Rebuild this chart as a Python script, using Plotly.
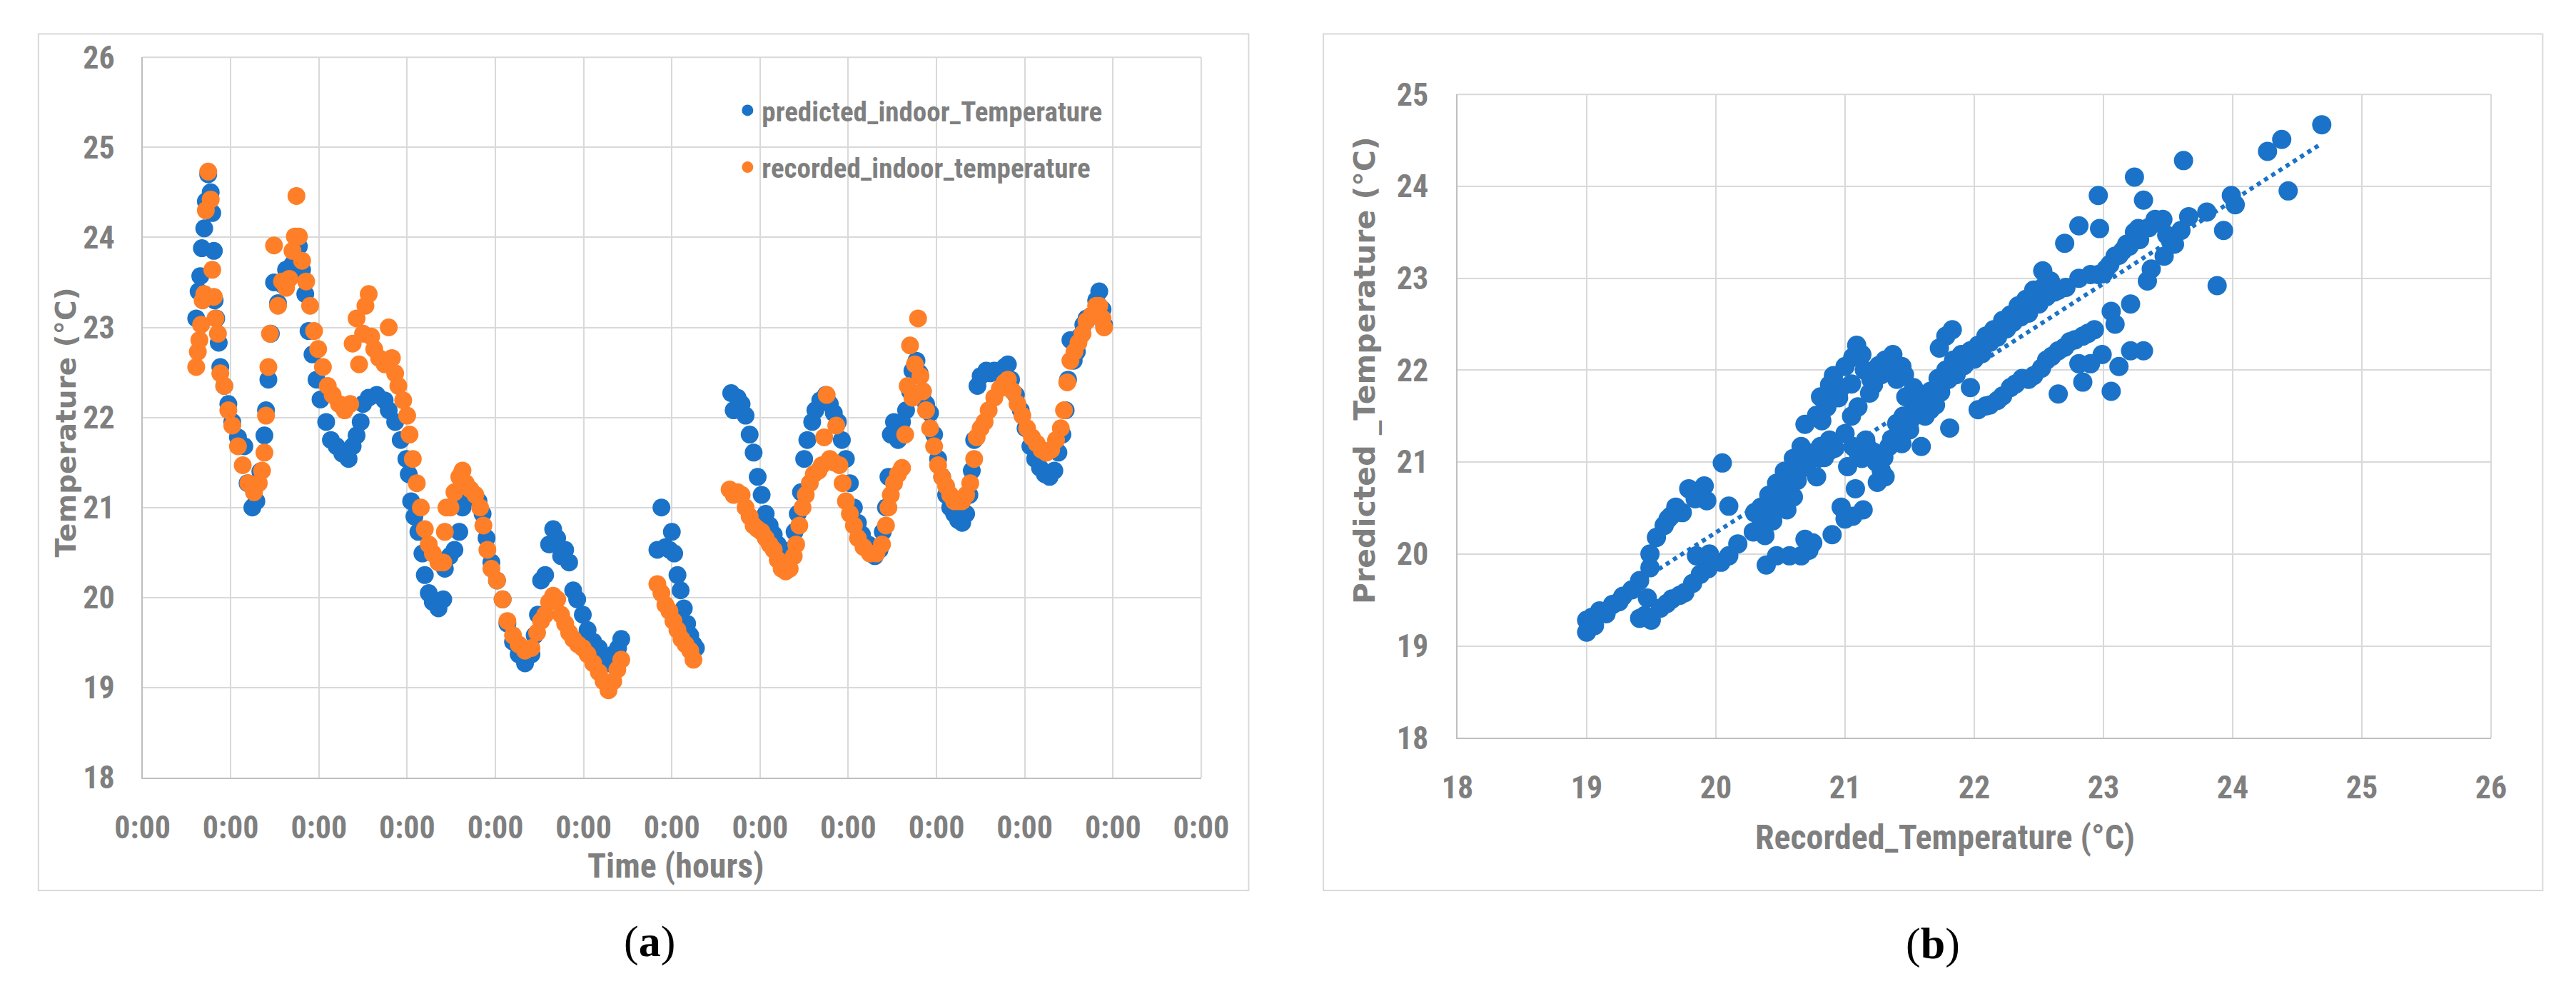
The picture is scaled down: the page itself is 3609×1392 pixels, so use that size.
import plotly.graph_objects as go
import numpy as np

W, H = 3609, 1392

# ---------------- Panel (a): time series (time in days, labels 0:00) ----------------
x_ticks = list(range(0, 13))
x_tick_labels = ["0:00"] * 13
y_ticks_a = list(range(18, 27))

pred_time = [
    0.609, 0.636, 0.655, 0.673, 0.700, 0.718, 0.745, 0.773, 0.791, 0.809, 0.818, 0.836, 0.864, 0.882, 0.927,
    0.973, 1.018, 1.082, 1.155, 1.191, 1.245, 1.291, 1.336, 1.382, 1.400, 1.427, 1.455, 1.491, 1.536, 1.591,
    1.627, 1.700, 1.773, 1.809, 1.845, 1.882, 1.927, 1.973, 2.018, 2.082, 2.136, 2.200, 2.264, 2.336, 2.382,
    2.427, 2.473, 2.500, 2.564, 2.655, 2.745, 2.791, 2.864, 2.927, 2.991, 3.018, 3.045, 3.082, 3.127, 3.173,
    3.200, 3.245, 3.291, 3.355, 3.409, 3.427, 3.482, 3.536, 3.591, 3.627, 3.655, 3.682, 3.745, 3.809, 3.855,
    3.900, 3.955, 4.018, 4.082, 4.136, 4.200, 4.264, 4.336, 4.409, 4.445, 4.482, 4.518, 4.564, 4.609, 4.655,
    4.700, 4.745, 4.791, 4.836, 4.882, 4.927, 4.991, 5.045, 5.109, 5.173, 5.227, 5.282, 5.336, 5.391, 5.427,
    5.836, 5.882, 5.927, 5.973, 6.000, 6.027, 6.064, 6.100, 6.136, 6.173, 6.209, 6.245, 6.273,
    6.673, 6.700, 6.745, 6.791, 6.836, 6.882, 6.927, 6.973, 7.018, 7.064, 7.109, 7.155, 7.200, 7.245, 7.291,
    7.318, 7.355, 7.391, 7.427, 7.464, 7.500, 7.536, 7.591, 7.627, 7.682, 7.745, 7.791, 7.836, 7.882, 7.927,
    7.973, 8.018, 8.064, 8.109, 8.155, 8.227, 8.300, 8.355, 8.391, 8.427, 8.455, 8.482, 8.518, 8.564, 8.609,
    8.655, 8.700, 8.727, 8.773, 8.809, 8.845, 8.882, 8.927, 8.973, 9.018, 9.064, 9.109, 9.155, 9.200, 9.245,
    9.291, 9.336, 9.373, 9.400, 9.427, 9.464, 9.500, 9.564, 9.609, 9.655, 9.718, 9.773, 9.809, 9.845, 9.900,
    9.955, 10.009, 10.064, 10.118, 10.173, 10.227, 10.282, 10.336, 10.382, 10.427, 10.464, 10.491, 10.518,
    10.555, 10.591, 10.627, 10.664, 10.700, 10.755, 10.809, 10.845, 10.882, 10.900,
]
pred_temp = [
    23.10, 23.40, 23.57, 23.88, 24.10, 24.40, 24.70, 24.50, 24.27, 23.85, 23.30, 23.10, 22.83, 22.56, 22.35,
    22.15, 21.95, 21.78, 21.68, 21.27, 21.00, 21.07, 21.40, 21.80, 22.08, 22.42, 22.93, 23.50, 23.27, 23.47,
    23.64, 23.70, 23.90, 23.64, 23.37, 22.96, 22.70, 22.42, 22.20, 21.95, 21.75, 21.68, 21.60, 21.54, 21.68,
    21.80, 21.95, 22.15, 22.22, 22.25, 22.19, 22.08, 21.95, 21.75, 21.54, 21.37, 21.07, 20.90, 20.73, 20.49,
    20.25, 20.05, 19.95, 19.88, 19.98, 20.32, 20.46, 20.53, 20.73, 21.00, 21.14, 21.17, 21.14, 21.07, 20.93,
    20.66, 20.39, 20.19, 19.98, 19.71, 19.51, 19.37, 19.27, 19.37, 19.58, 19.81, 20.19, 20.25, 20.59, 20.76,
    20.66, 20.46, 20.53, 20.39, 20.08, 19.98, 19.81, 19.64, 19.51, 19.44, 19.30, 19.27, 19.37, 19.44, 19.54,
    20.53, 21.00, 20.56, 20.53, 20.73, 20.49, 20.25, 20.08, 19.88, 19.71, 19.58, 19.48, 19.44,
    22.27, 22.08, 22.22, 22.15, 22.02, 21.81, 21.61, 21.34, 21.14, 20.93, 20.80, 20.70, 20.59, 20.53, 20.42,
    20.32, 20.53, 20.73, 20.93, 21.17, 21.54, 21.75, 21.95, 22.08, 22.19, 22.25, 22.15, 22.05, 21.95, 21.75,
    21.54, 21.27, 21.00, 20.83, 20.70, 20.59, 20.46, 20.53, 20.73, 21.00, 21.34, 21.81, 21.95, 21.75, 21.95,
    22.08, 22.29, 22.52, 22.63, 22.49, 22.29, 22.15, 22.05, 21.81, 21.54, 21.34, 21.14, 21.00, 20.93, 20.86,
    20.83, 20.93, 21.14, 21.41, 21.75, 22.35, 22.46, 22.52, 22.49, 22.52, 22.49, 22.56, 22.59, 22.42, 22.25,
    22.08, 21.88, 21.68, 21.54, 21.44, 21.37, 21.34, 21.41, 21.61, 21.81, 22.08, 22.42, 22.86,
    22.63, 22.73, 22.90, 23.03, 23.10, 23.13, 23.30, 23.40, 23.20, 23.03,
]

rec_time = [
    0.609, 0.627, 0.645, 0.664, 0.682, 0.700, 0.718, 0.745, 0.773, 0.791, 0.809, 0.827, 0.855, 0.882, 0.927,
    0.973, 1.018, 1.082, 1.136, 1.200, 1.264, 1.318, 1.355, 1.382, 1.400, 1.427, 1.445, 1.491, 1.536, 1.582,
    1.627, 1.664, 1.700, 1.727, 1.745, 1.773, 1.809, 1.855, 1.900, 1.945, 1.991, 2.045, 2.100, 2.155, 2.227,
    2.291, 2.355, 2.382, 2.427, 2.455, 2.500, 2.527, 2.564, 2.591, 2.627, 2.682, 2.745, 2.791, 2.827, 2.864,
    2.900, 2.955, 3.000, 3.027, 3.064, 3.109, 3.155, 3.200, 3.245, 3.291, 3.355, 3.409, 3.427, 3.445, 3.491,
    3.536, 3.591, 3.627, 3.664, 3.718, 3.773, 3.827, 3.864, 3.909, 3.955, 4.018, 4.082, 4.136, 4.200, 4.264,
    4.336, 4.409, 4.473, 4.518, 4.564, 4.609, 4.655, 4.700, 4.745, 4.791, 4.836, 4.882, 4.936, 4.991, 5.045,
    5.109, 5.173, 5.227, 5.282, 5.336, 5.382, 5.427,
    5.836, 5.882, 5.927, 5.973, 6.018, 6.064, 6.109, 6.155, 6.209, 6.245,
    6.655, 6.700, 6.745, 6.791, 6.836, 6.882, 6.927, 6.973, 7.018, 7.064, 7.109, 7.155, 7.200, 7.245, 7.291,
    7.336, 7.382, 7.409, 7.445, 7.482, 7.518, 7.564, 7.609, 7.664, 7.700, 7.727, 7.755, 7.791, 7.836, 7.864,
    7.900, 7.936, 7.973, 8.018, 8.064, 8.109, 8.173, 8.245, 8.318, 8.382, 8.427, 8.455, 8.482, 8.518, 8.564,
    8.609, 8.645, 8.673, 8.700, 8.727, 8.755, 8.791, 8.818, 8.845, 8.882, 8.927, 8.973, 9.018, 9.064, 9.109,
    9.155, 9.200, 9.245, 9.291, 9.336, 9.382, 9.427, 9.455, 9.500, 9.545, 9.591, 9.655, 9.718, 9.773, 9.809,
    9.864, 9.918, 9.973, 10.027, 10.082, 10.136, 10.191, 10.245, 10.300, 10.355, 10.409, 10.445, 10.482,
    10.518, 10.564, 10.609, 10.655, 10.700, 10.755, 10.809, 10.845, 10.882, 10.900,
]
rec_temp = [
    22.56, 22.73, 22.86, 23.03, 23.30, 23.37, 24.30, 24.73, 24.42, 23.64, 23.34, 23.10, 22.93, 22.49, 22.35,
    22.08, 21.91, 21.68, 21.47, 21.27, 21.17, 21.27, 21.41, 21.61, 22.02, 22.56, 22.93, 23.91, 23.24, 23.51,
    23.44, 23.54, 23.85, 24.01, 24.46, 24.01, 23.74, 23.51, 23.24, 22.96, 22.76, 22.56, 22.35, 22.25, 22.15,
    22.08, 22.15, 22.82, 23.10, 22.59, 22.93, 23.24, 23.37, 22.90, 22.76, 22.66, 22.59, 23.00, 22.66, 22.49,
    22.35, 22.19, 22.02, 21.81, 21.54, 21.27, 21.00, 20.76, 20.59, 20.49, 20.39, 20.39, 20.73, 21.00, 21.00,
    21.17, 21.34, 21.41, 21.27, 21.20, 21.14, 21.00, 20.80, 20.53, 20.32, 20.19, 19.98, 19.74, 19.58, 19.48,
    19.41, 19.44, 19.61, 19.74, 19.81, 19.95, 20.02, 19.98, 19.81, 19.71, 19.61, 19.54, 19.48, 19.44, 19.37,
    19.27, 19.17, 19.07, 18.97, 19.07, 19.20, 19.31,
    20.15, 20.05, 19.92, 19.85, 19.74, 19.64, 19.54, 19.48, 19.41, 19.31,
    21.20, 21.14, 21.17, 21.14, 21.00, 20.90, 20.80, 20.76, 20.73, 20.66, 20.59, 20.53, 20.42, 20.32, 20.29,
    20.32, 20.46, 20.59, 20.80, 21.00, 21.14, 21.27, 21.37, 21.41, 21.47, 21.78, 22.25, 21.54, 21.50, 21.91,
    21.47, 21.27, 21.07, 20.93, 20.80, 20.66, 20.56, 20.49, 20.49, 20.59, 20.80, 21.00, 21.14, 21.27, 21.37,
    21.44, 21.81, 22.35, 22.80, 22.22, 22.59, 23.10, 22.46, 22.29, 22.08, 21.88, 21.68, 21.47, 21.34, 21.24,
    21.14, 21.07, 21.07, 21.07, 21.14, 21.27, 21.54, 21.78, 21.88, 21.95, 22.08, 22.22, 22.32, 22.39, 22.42,
    22.29, 22.15, 22.02, 21.88, 21.78, 21.71, 21.64, 21.61, 21.64, 21.75, 21.88, 22.08, 22.39,
    22.63, 22.73, 22.83, 22.93, 23.07, 23.13, 23.24, 23.24, 23.10, 23.00,
]

# ---------------- Panel (b): recorded vs predicted scatter ----------------
x_ticks_b = list(range(18, 27))
y_ticks_b = list(range(18, 26))

scatter_recorded = [
    19.00, 19.00, 19.04, 19.06, 19.10, 19.15, 19.20, 19.25, 19.28, 19.35, 19.41, 19.41, 19.45, 19.50, 19.47,
    19.49, 19.49, 19.54, 19.60, 19.63, 19.65, 19.69, 19.74, 19.79, 19.84, 19.91, 19.93, 20.05, 20.10,
    19.57, 19.62, 19.66, 19.72, 19.76, 19.82, 19.88, 19.94, 19.97, 20.04, 20.10, 20.17, 19.85, 19.95,
    20.29, 20.30, 20.35, 20.41, 20.47, 20.53, 20.60, 20.66, 20.69, 20.75, 20.81, 20.88, 20.78, 20.35, 20.41,
    20.50, 20.57, 20.63, 20.70,
    20.45, 20.52, 20.58, 20.62, 20.68, 20.72, 20.84, 20.92, 20.60, 20.55, 20.44, 20.38,
    20.78, 20.81, 20.88, 20.91, 20.97, 21.00, 21.06, 21.09, 21.13, 21.22, 21.31, 21.37, 21.44, 21.28, 21.19,
    21.10, 21.05,
    21.15, 21.20, 21.26, 21.34, 21.40, 21.46, 21.05, 20.95, 20.86, 20.82,
    20.39, 20.47, 20.57, 20.66, 20.72, 20.75, 20.69,
    20.90, 20.97, 21.00, 21.06, 21.14, 21.08,
    21.00, 21.06, 21.13, 21.16, 21.22, 21.28, 21.31, 21.25, 21.34, 21.41, 21.47, 21.53, 21.59, 21.66, 21.72,
    21.78, 21.84, 21.90, 21.97, 22.03, 22.09, 22.15, 22.22, 22.28, 22.34, 22.40, 22.46, 22.53, 22.59, 22.65,
    22.71, 22.81, 22.90, 22.96, 23.02, 23.09, 23.15, 23.18, 23.24, 21.47, 21.53, 21.66, 21.59, 21.81, 21.78,
    21.83, 21.73, 21.97, 21.44, 21.50, 21.62, 21.70, 21.75,
    21.02, 21.10, 21.18, 21.24, 21.30, 21.36, 21.40, 21.45, 21.52, 21.56, 21.62, 21.68, 21.74, 21.80, 21.86,
    21.92, 22.00, 22.06, 22.12, 22.18, 22.25, 22.30, 22.36, 22.42, 22.50, 22.56, 22.62,
    22.03, 22.09, 22.18, 22.28, 22.37, 22.46, 22.56, 22.65, 22.74, 22.84, 22.93, 22.99, 23.12, 23.21, 23.31,
    23.06, 22.65, 22.84, 22.81, 22.90,
    22.12, 22.22, 22.32, 22.42, 22.52, 22.60, 22.70, 22.78, 22.88,
    22.53, 22.70, 22.81, 22.96, 22.97, 23.06, 23.09, 23.21, 23.24, 23.31, 23.27, 23.37, 23.34, 23.40, 23.46,
    23.49, 23.47, 23.55, 23.60, 23.62, 23.66, 23.80, 23.88, 23.93, 23.99, 24.02, 24.27, 24.38, 24.43, 24.69,
    23.00, 23.05, 23.12, 23.20, 23.28, 23.35, 23.44, 23.52,
]
scatter_predicted = [
    19.15, 19.28, 19.31, 19.22, 19.38, 19.35, 19.45, 19.48, 19.54, 19.61, 19.71, 19.30, 19.33, 19.28, 19.52,
    19.85, 20.00, 20.18, 20.31, 20.38, 20.41, 20.51, 20.45, 20.71, 20.60, 20.74, 20.58, 20.99, 20.52,
    19.41, 19.46, 19.51, 19.55, 19.58, 19.68, 19.78, 19.84, 19.94, 19.91, 19.98, 20.11, 19.98, 20.00,
    20.24, 20.45, 20.51, 20.64, 20.77, 20.90, 21.04, 21.17, 21.41, 21.04, 21.17, 21.24, 20.84, 20.31, 20.44,
    20.58, 20.68, 20.80, 20.95,
    20.55, 20.70, 20.85, 20.90, 21.00, 21.10, 21.05, 21.15, 20.62, 20.48, 20.36, 20.20,
    21.51, 21.71, 21.84, 21.94, 21.81, 22.04, 22.14, 22.27, 22.17, 21.84, 22.11, 22.17, 22.04, 21.95, 21.75,
    21.60, 21.50,
    22.00, 21.90, 22.05, 22.00, 21.90, 21.95, 21.85, 21.70, 21.60, 21.45,
    19.88, 19.98, 19.98, 19.98, 20.04, 20.12, 20.16,
    20.21, 20.51, 20.38, 20.41, 20.48, 20.71,
    21.31, 21.17, 21.04, 21.24, 21.11, 20.91, 20.84, 20.78, 21.17, 21.31, 21.44, 21.57, 21.71, 21.77, 21.91,
    22.00, 22.11, 22.17, 22.21, 22.27, 22.37, 22.44, 22.54, 22.60, 22.70, 22.77, 22.87, 22.90, 22.97, 22.87,
    22.90, 23.00, 23.04, 23.04, 23.10, 23.24, 23.30, 23.37, 23.50, 21.71, 21.81, 21.57, 21.17, 21.37, 22.37,
    22.44, 22.24, 21.81, 21.20, 21.35, 21.50, 21.62, 21.85,
    20.95, 21.10, 21.15, 21.00, 21.05, 21.25, 21.42, 21.50, 21.48, 21.62, 21.66, 21.70, 21.76, 21.90, 21.95,
    22.05, 22.12, 22.18, 22.30, 22.36, 22.45, 22.52, 22.58, 22.62, 22.72, 22.80, 22.85,
    21.57, 21.61, 21.67, 21.81, 21.91, 21.94, 22.11, 22.21, 22.31, 22.37, 22.44, 22.17, 22.04, 22.21, 22.21,
    21.77, 21.74, 21.87, 22.07, 22.07,
    21.62, 21.72, 21.85, 21.90, 22.02, 22.15, 22.25, 22.33, 22.40,
    23.08, 23.38, 23.57, 23.90, 23.54, 22.64, 22.50, 22.72, 24.10, 23.85, 23.54, 23.10, 22.97, 23.64, 23.64,
    23.47, 23.24, 23.37, 23.52, 24.28, 23.67, 23.72, 22.92, 23.52, 23.90, 23.80, 24.38, 24.51, 23.95, 24.67,
    23.05, 23.15, 23.25, 23.35, 23.42, 23.55, 23.60, 23.40,
]

BLUE = "#1a73c8"
ORANGE = "#fe7f27"
GRID = "#d9d9d9"
AXLINE = "#bfbfbf"
TXT = "#7f7f7f"
NARROW = "Liberation Sans Narrow, Roboto Condensed, DejaVu Sans Condensed, Arial Narrow, sans-serif"
WIDE_BOLD = "DejaVu Sans, Verdana, sans-serif"

fig = go.Figure()

fig.add_trace(go.Scatter(
    x=pred_time, y=pred_temp, mode="markers", name="predicted_indoor_Temperature",
    marker=dict(color=BLUE, size=25, line=dict(width=0)), xaxis="x", yaxis="y",
    legendgroup="p",
))
fig.add_trace(go.Scatter(
    x=rec_time, y=rec_temp, mode="markers", name="recorded_indoor_temperature",
    marker=dict(color=ORANGE, size=25, line=dict(width=0)), xaxis="x", yaxis="y",
    legendgroup="r",
))

fig.add_trace(go.Scatter(
    x=scatter_recorded, y=scatter_predicted, mode="markers", showlegend=False,
    marker=dict(color=BLUE, size=27, line=dict(width=0)), xaxis="x2", yaxis="y2",
))

# Linear trendline fitted to the scatter data
rec_arr = np.array(scatter_recorded)
pred_arr = np.array(scatter_predicted)
slope, intercept = np.polyfit(rec_arr, pred_arr, 1)
tx = [rec_arr.min(), rec_arr.max()]
ty = [slope * v + intercept for v in tx]
fig.add_trace(go.Scatter(
    x=tx, y=ty, mode="lines", showlegend=False,
    line=dict(color=BLUE, width=6, dash="dot"), xaxis="x2", yaxis="y2",
))

tickfont = dict(family=NARROW, size=44, color=TXT, weight="bold")

# page body has a default 8px margin; compensate so positions land on target pixels
OFF = 8

def px_x(p):
    return (p - OFF) / W

def px_y(p):
    return 1 - (p - OFF) / H

axis_common = dict(
    showgrid=True, gridcolor=GRID, gridwidth=2,
    showline=True, linecolor=AXLINE, linewidth=2,
    zeroline=False, ticks="", tickfont=tickfont, fixedrange=True,
)

fig.update_layout(
    width=W, height=H,
    margin=dict(l=0, r=0, t=0, b=0),
    paper_bgcolor="white", plot_bgcolor="white",
    xaxis=dict(domain=[px_x(164), px_x(1680)], range=[0, 12], tickmode="array",
               tickvals=x_ticks, ticktext=x_tick_labels, anchor="y",
               ticklabelstandoff=30, **axis_common),
    yaxis=dict(domain=[px_y(1104), px_y(56)], range=[18, 26], tickmode="array",
               tickvals=y_ticks_a, anchor="x", ticklabelstandoff=28, **axis_common),
    xaxis2=dict(domain=[px_x(2047), px_x(3527)], range=[18, 26], tickmode="array",
                tickvals=x_ticks_b, anchor="y2", ticklabelstandoff=30, **axis_common),
    yaxis2=dict(domain=[px_y(1046), px_y(110)], range=[18, 25], tickmode="array",
                tickvals=y_ticks_b, anchor="x2", ticklabelstandoff=30, **axis_common),
    legend=dict(
        x=px_x(1010), y=px_y(100), xanchor="left", yanchor="top",
        font=dict(family=NARROW, size=39, color=TXT, weight="bold"),
        bgcolor="rgba(0,0,0,0)", tracegroupgap=26, itemsizing="trace",
    ),
    showlegend=True,
)

# Plot-area outlines (top / right edges in grid colour) and panel frames
shapes = []
for xr, yr in (("x domain", "y domain"), ("x2 domain", "y2 domain")):
    shapes.append(dict(type="line", xref=xr, yref=yr, x0=0, x1=1, y0=1, y1=1,
                       line=dict(color=GRID, width=2), layer="below"))
    shapes.append(dict(type="line", xref=xr, yref=yr, x0=1, x1=1, y0=0, y1=1,
                       line=dict(color=GRID, width=2), layer="below"))
for x0, x1 in ((15, 1748), (1855, 3601)):
    shapes.append(dict(type="rect", xref="paper", yref="paper",
                       x0=px_x(x0), x1=px_x(x1), y0=px_y(1268), y1=px_y(22),
                       line=dict(color=GRID, width=2), fillcolor="rgba(0,0,0,0)", layer="below"))
fig.update_layout(shapes=shapes)

serif = "Liberation Serif, DejaVu Serif, serif"
annotations = [
    dict(text="<b>Temperature (°C)</b>", x=px_x(54), y=px_y(587), textangle=-90,
         font=dict(family=WIDE_BOLD, size=39, color=TXT)),
    dict(text="Time (hours)", x=px_x(928), y=px_y(1232),
         font=dict(family=NARROW, size=48, color=TXT, weight="bold")),
    dict(text="<b>Predicted _Temperature (°C)</b>", x=px_x(1914), y=px_y(511), textangle=-90,
         font=dict(family=WIDE_BOLD, size=41, color=TXT)),
    dict(text="Recorded_Temperature (°C)", x=px_x(2745), y=px_y(1191),
         font=dict(family=NARROW, size=48, color=TXT, weight="bold")),
    dict(text="(<b>a</b>)", x=px_x(890), y=px_y(1342),
         font=dict(family=serif, size=62, color="black")),
    dict(text="(<b>b</b>)", x=px_x(2728), y=px_y(1345),
         font=dict(family=serif, size=62, color="black")),
]
for a in annotations:
    a.update(xref="paper", yref="paper", showarrow=False, xanchor="center", yanchor="middle")
fig.update_layout(annotations=annotations)

fig.write_html("out.html")
